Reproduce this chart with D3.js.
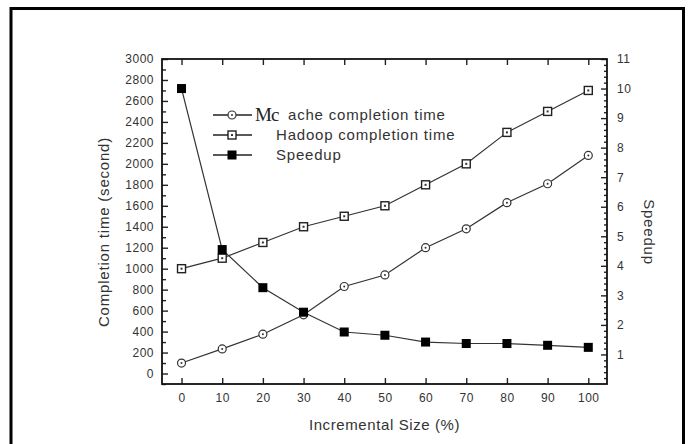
<!DOCTYPE html>
<html>
<head>
<meta charset="utf-8">
<script src="https://cdn.jsdelivr.net/npm/d3@7"></script>
<style>
  body { margin: 0; background: #fff; }
  svg { display: block; font-family: "Liberation Sans", Arial, sans-serif; }
</style>
</head>
<body>
<svg id="chart" width="688" height="444"></svg>
<script>
// data
const sizes = [0, 10, 20, 30, 40, 50, 60, 70, 80, 90, 100];
const mcacheTime = [100, 235, 375, 560, 830, 940, 1200, 1380, 1630, 1810, 2080];
const hadoopTime = [1000, 1100, 1250, 1400, 1500, 1600, 1800, 2000, 2300, 2500, 2700];
const speedup = [10, 4.55, 3.26, 2.43, 1.76, 1.65, 1.42, 1.37, 1.37, 1.31, 1.24];
const leftTicks = d3.range(0, 3001, 200);
const rightTicks = d3.range(1, 12, 1);
const legendNames = ["ache completion time", "Hadoop completion time", "Speedup"];

const svg = d3.select('#chart');
const margin = {top: 59, right: 607, bottom: 384, left: 162};

// outer frame of the figure
svg.append('path')
    .attr('d', 'M11,450 L11,8.5 L683.5,8.5 L683.5,450')
    .attr('fill', 'none')
    .attr('stroke', '#000')
    .attr('stroke-width', 3);

const x = d3.scaleLinear().domain([-4.8, 104.6]).range([margin.left, margin.right]);
const yL = d3.scaleLinear().domain([-100, 3000]).range([margin.bottom, margin.top]);
const yR = d3.scaleLinear().domain([0, 11]).range([margin.bottom, margin.top]);

const ink = '#222';
const g = svg.append('g');

// ticks, all pointing inward
const bottomAxis = d3.axisBottom(x).tickValues(sizes).tickSize(-6).tickPadding(9);
const topAxis = d3.axisTop(x).tickValues(sizes).tickSize(-6).tickFormat('');
const leftAxis = d3.axisLeft(yL).tickValues(leftTicks).tickSize(-6).tickPadding(8).tickFormat(d3.format('d'));
const leftMinor = d3.axisLeft(yL).tickValues(d3.range(-100, 3000, 200)).tickSize(-4).tickFormat('');
const rightAxis = d3.axisRight(yR).tickValues(rightTicks).tickSize(-6).tickPadding(10);
const rightMinor = d3.axisRight(yR).tickValues(d3.range(0, 11, 0.2).filter(v => Math.abs(v - Math.round(v)) > 0.01)).tickSize(-3).tickFormat('');

function styleAxis(sel) {
    sel.select('.domain').remove();
    sel.selectAll('line').attr('stroke', ink).attr('stroke-width', 1.4);
    sel.selectAll('text').attr('fill', '#333').attr('font-size', 12).style('letter-spacing', '0.5px');
}

g.append('g').attr('transform', `translate(0,${margin.bottom})`).call(bottomAxis).call(styleAxis);
g.append('g').attr('transform', `translate(0,${margin.top})`).call(topAxis).call(styleAxis);
g.append('g').attr('transform', `translate(${margin.left},0)`).call(leftAxis).call(styleAxis);
g.append('g').attr('transform', `translate(${margin.left},0)`).call(leftMinor).call(styleAxis);
g.append('g').attr('transform', `translate(${margin.right},0)`).call(rightAxis).call(styleAxis);
g.append('g').attr('transform', `translate(${margin.right},0)`).call(rightMinor).call(styleAxis);

// plot frame
g.append('rect')
    .attr('x', margin.left).attr('y', margin.top)
    .attr('width', margin.right - margin.left).attr('height', margin.bottom - margin.top)
    .attr('fill', 'none').attr('stroke', '#111').attr('stroke-width', 1.8);

// axis titles
svg.append('text')
    .attr('x', (margin.left + margin.right) / 2).attr('y', 430)
    .attr('text-anchor', 'middle').attr('font-size', 15).attr('fill', '#333')
    .style('letter-spacing', '0.6px')
    .text('Incremental Size (%)');
svg.append('text')
    .attr('transform', 'translate(109,232) rotate(-90)')
    .attr('text-anchor', 'middle').attr('font-size', 15).attr('fill', '#333')
    .style('letter-spacing', '0.8px')
    .text('Completion time (second)');
svg.append('text')
    .attr('transform', 'translate(644,232) rotate(90)')
    .attr('text-anchor', 'middle').attr('font-size', 15).attr('fill', '#333')
    .style('letter-spacing', '0.8px')
    .text('Speedup');

// series lines
const lineL = d3.line().x((d, i) => x(sizes[i])).y(d => yL(d));
const lineR = d3.line().x((d, i) => x(sizes[i])).y(d => yR(d));

[[mcacheTime, lineL], [hadoopTime, lineL], [speedup, lineR]].forEach(([vals, ln]) => {
    g.append('path')
        .attr('d', ln(vals))
        .attr('fill', 'none')
        .attr('stroke', '#333')
        .attr('stroke-width', 1.2);
});

// markers
function circleMark(sel, cx, cy) {
    sel.append('circle').attr('cx', cx).attr('cy', cy).attr('r', 4)
        .attr('fill', '#fff').attr('stroke', '#333').attr('stroke-width', 1.2);
    sel.append('circle').attr('cx', cx).attr('cy', cy).attr('r', 1)
        .attr('fill', '#333');
}
function openSquare(sel, cx, cy) {
    sel.append('rect').attr('x', cx - 4).attr('y', cy - 4).attr('width', 8).attr('height', 8)
        .attr('fill', '#fff').attr('stroke', '#222').attr('stroke-width', 1.4);
    sel.append('rect').attr('x', cx - 1).attr('y', cy - 1).attr('width', 2).attr('height', 2)
        .attr('fill', '#333');
}
function filledSquare(sel, cx, cy) {
    sel.append('rect').attr('x', cx - 4.5).attr('y', cy - 4.5).attr('width', 9).attr('height', 9)
        .attr('fill', '#000');
}

const marks = g.append('g');
mcacheTime.forEach((v, i) => circleMark(marks, x(sizes[i]), yL(v)));
hadoopTime.forEach((v, i) => openSquare(marks, x(sizes[i]), yL(v)));
speedup.forEach((v, i) => filledSquare(marks, x(sizes[i]), yR(v)));

// legend
const legend = svg.append('g');
const legendY = [115, 135, 155];
const markFns = [circleMark, openSquare, filledSquare];
legendY.forEach((ly, i) => {
    legend.append('line').attr('x1', 213).attr('x2', 252).attr('y1', ly).attr('y2', ly)
        .attr('stroke', '#222').attr('stroke-width', 1.6);
    markFns[i](legend, 232, ly);
});
legend.append('text')
    .attr('x', 255).attr('y', 121)
    .attr('font-family', '"Liberation Serif", "Times New Roman", serif')
    .attr('font-size', 19).attr('fill', '#222')
    .style('letter-spacing', '-1px')
    .text('Mc');
legend.append('text')
    .attr('x', 288).attr('y', legendY[0] + 5)
    .attr('font-size', 15).attr('fill', '#333').style('letter-spacing', '0.8px')
    .text(legendNames[0]);
legend.append('text')
    .attr('x', 276).attr('y', legendY[1] + 5)
    .attr('font-size', 15).attr('fill', '#333').style('letter-spacing', '0.8px')
    .text(legendNames[1]);
legend.append('text')
    .attr('x', 276).attr('y', legendY[2] + 5)
    .attr('font-size', 15).attr('fill', '#333').style('letter-spacing', '0.8px')
    .text(legendNames[2]);
</script>
</body>
</html>
